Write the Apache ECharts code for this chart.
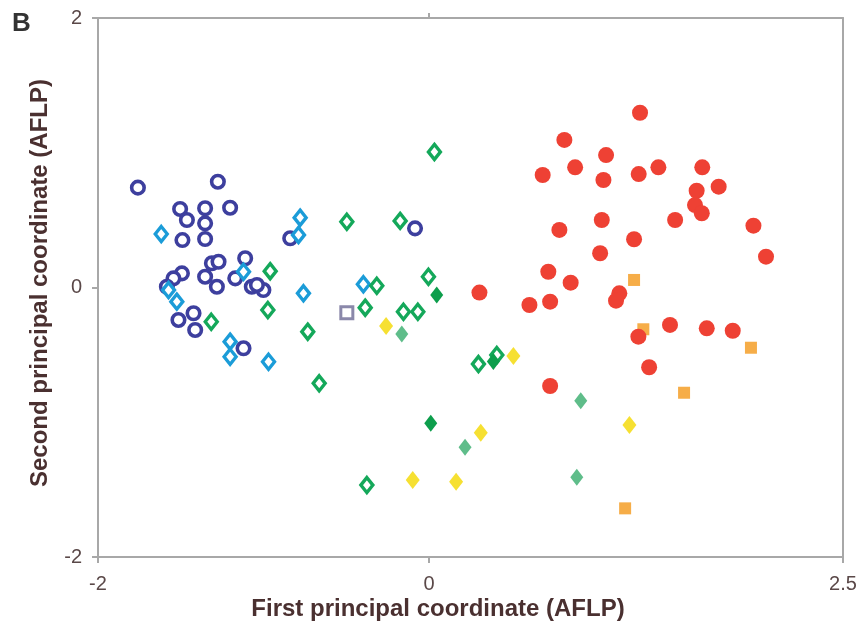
<!DOCTYPE html>
<html><head><meta charset="utf-8">
<script src="https://cdn.jsdelivr.net/npm/echarts@6/dist/echarts.min.js"></script>
<style>html,body{margin:0;padding:0;background:#fff}#c{width:863px;height:628px}</style>
</head><body><div id="c"></div>
<script>
var xTicks = [-2, 0, 2.5];
var yTicks = [-2, 0, 2];

var blueCircles = [[-1.759,0.741],[-1.276,0.785],[-1.504,0.583],[-1.463,0.501],[-1.353,0.588],[-1.353,0.476],[-1.202,0.592],[-1.490,0.352],[-1.353,0.360],[-0.839,0.365],[-0.085,0.439],[-1.312,0.180],[-1.272,0.191],[-1.353,0.080],[-1.282,0.006],[-1.111,0.217],[-1.171,0.068],[-1.071,0.006],[-1.001,-0.019],[-1.040,0.019],[-1.493,0.105],[-1.544,0.068],[-1.584,0.006],[-1.514,-0.241],[-1.423,-0.191],[-1.413,-0.315],[-1.121,-0.451]];
var cyanDiamonds = [[-1.618,0.397],[-0.779,0.518],[-0.789,0.390],[-1.121,0.117],[-1.574,-0.019],[-1.524,-0.105],[-0.759,-0.043],[-1.202,-0.402],[-1.202,-0.514],[-0.970,-0.551],[-0.397,0.024]];
var greenDiamonds = [[0.032,1.006],[-0.497,0.488],[-0.175,0.494],[-0.004,0.080],[-0.960,0.121],[-0.316,0.013],[-0.974,-0.167],[-1.316,-0.254],[-0.386,-0.150],[-0.155,-0.180],[-0.068,-0.180],[-0.733,-0.328],[-0.664,-0.711],[0.298,-0.568],[0.409,-0.501],[-0.376,-1.466]];
var graySquares = [[-0.497,-0.187]];
var yellowDiamonds = [[-0.260,-0.286],[0.509,-0.508],[0.312,-1.077],[-0.099,-1.429],[0.163,-1.441],[1.210,-1.020]];
var lightGreenDiamonds = [[-0.165,-0.345],[0.217,-1.186],[0.916,-0.840],[0.892,-1.409]];
var darkGreenDiamonds = [[0.046,-0.056],[0.388,-0.550],[0.010,-1.008]];
var redCircles = [[1.274,1.297],[0.817,1.095],[1.069,0.983],[0.882,0.892],[0.686,0.835],[1.053,0.798],[1.266,0.842],[1.385,0.892],[1.650,0.892],[1.616,0.718],[1.749,0.748],[1.606,0.612],[1.647,0.551],[1.486,0.501],[1.959,0.459],[2.035,0.229],[1.043,0.501],[0.787,0.427],[1.238,0.358],[1.033,0.254],[0.720,0.117],[0.855,0.036],[0.304,-0.038],[1.149,-0.043],[1.129,-0.098],[0.606,-0.130],[0.731,-0.105],[1.264,-0.365],[1.455,-0.278],[1.677,-0.303],[1.834,-0.321],[1.329,-0.592],[0.731,-0.731]];
var orangeSquares = [[1.238,0.056],[1.294,-0.310],[1.944,-0.447],[1.540,-0.781],[1.184,-1.639]];

var chart = echarts.init(document.getElementById('c'));
var axisCol = '#a8a8a8';
var labCol = '#5a4848';
var font = 'Liberation Sans, Arial, sans-serif';

function openS(data, sym, size, col, bw, z) {
  return {type:'scatter', data:data, symbol:sym, symbolSize:size, z:z,
    itemStyle:{color:'#ffffff', borderColor:col, borderWidth:bw, opacity:1}, emphasis:{disabled:true}};
}
function fillS(data, sym, size, col, z) {
  return {type:'scatter', data:data, symbol:sym, symbolSize:size, z:z,
    itemStyle:{color:col, opacity:1}, emphasis:{disabled:true}};
}

chart.setOption({
  animation:false,
  backgroundColor:'#ffffff',
  grid:{left:98, right:20, top:18, bottom:71},
  xAxis:[{
    type:'value', min:-2, max:2.5, position:'bottom',
    splitLine:{show:false},
    axisLine:{show:true, onZero:false, lineStyle:{color:axisCol, width:2}},
    axisTick:{show:true, inside:false, length:6, customValues:xTicks, lineStyle:{color:axisCol, width:2}},
    axisLabel:{customValues:xTicks, margin:17, color:labCol, fontSize:20, fontFamily:font,
      formatter:function(v){return String(v);}}
  },{
    type:'value', min:-2, max:2.5, position:'top',
    splitLine:{show:false},
    axisLine:{show:true, onZero:false, lineStyle:{color:axisCol, width:2}},
    axisTick:{show:true, length:5, customValues:[0], lineStyle:{color:axisCol, width:2}},
    axisLabel:{show:false}
  }],
  yAxis:[{
    type:'value', min:-2, max:2, position:'left',
    splitLine:{show:false},
    axisLine:{show:true, onZero:false, lineStyle:{color:axisCol, width:2}},
    axisTick:{show:true, length:6, customValues:yTicks, lineStyle:{color:axisCol, width:2}},
    axisLabel:{customValues:yTicks, margin:16, color:labCol, fontSize:20, fontFamily:font}
  },{
    type:'value', min:-2, max:2, position:'right',
    splitLine:{show:false},
    axisLine:{show:true, onZero:false, lineStyle:{color:axisCol, width:2}},
    axisTick:{show:false},
    axisLabel:{show:false}
  }],
  graphic:[
    {type:'text', left:12, top:11, style:{text:'B', fontSize:26, fontWeight:'bold', fill:'#333333', fontFamily:font}},
    {type:'text', x:438, y:609, style:{text:'First principal coordinate (AFLP)', fontSize:24, fontWeight:'bold', fill:'#4a3030', fontFamily:font, align:'center', verticalAlign:'middle'}},
    {type:'text', x:40, y:283, rotation:Math.PI/2, style:{text:'Second principal coordinate (AFLP)', fontSize:24, fontWeight:'bold', fill:'#4a3030', fontFamily:font, align:'center', verticalAlign:'middle'}}
  ],
  series:[
    openS(blueCircles, 'circle', 12.5, '#3d3f9e', 3.6, 2),
    openS(cyanDiamonds, 'diamond', [12,15], '#1b9cd8', 3.4, 3),
    openS(greenDiamonds, 'diamond', [12,15], '#14a85a', 3.4, 4),
    openS(graySquares, 'rect', 12, '#8a88aa', 3, 4),
    fillS(yellowDiamonds, 'diamond', [14,18], '#f6e032', 5),
    fillS(lightGreenDiamonds, 'diamond', [13,17], '#5fbd8a', 5),
    fillS(darkGreenDiamonds, 'diamond', [13,17], '#0d9e4c', 5),
    fillS(orangeSquares, 'rect', 12, '#f6ad48', 5),
    fillS(redCircles, 'circle', 16, '#ee4134', 6)
  ]
});
</script></body></html>
